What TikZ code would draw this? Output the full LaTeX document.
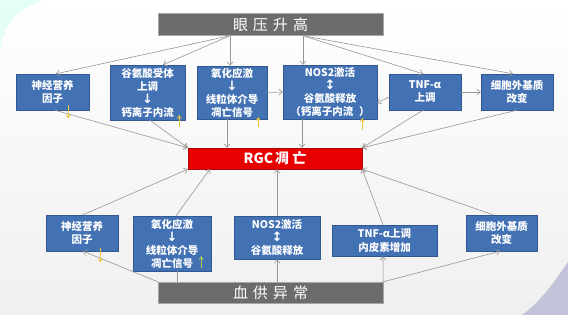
\documentclass[tikz,border=0pt]{standalone}
\usepackage{fontspec}
\setmainfont{Noto Sans CJK SC}
\newfontfamily\arrowfont{DejaVu Sans}
\usetikzlibrary{arrows.meta}

\definecolor{boxblue}{RGB}{66,113,180}
\definecolor{boxedge}{RGB}{50,88,145}
\definecolor{headgray}{RGB}{108,108,108}
\definecolor{rgcred}{RGB}{232,0,0}
\definecolor{rgcedge}{RGB}{170,10,10}
\definecolor{linkgray}{RGB}{150,150,150}
\definecolor{hintyellow}{RGB}{236,196,60}
\definecolor{hintgreen}{RGB}{185,205,70}

\newcommand{\downmark}{{\arrowfont\fontsize{13}{13}\selectfont ↓}}
\newcommand{\bothmark}{{\arrowfont\fontsize{13}{13}\selectfont ↕}}

\tikzset{
  box/.style={draw=boxedge, fill=boxblue, text=white, align=center, inner sep=0pt,
    font=\bfseries\fontsize{10.5}{13}\selectfont},
  headbox/.style={draw=gray!70, fill=headgray, text=white, inner sep=0pt,
    minimum width=225pt, minimum height=22pt, font=\fontsize{15}{17}\selectfont},
  rgcbox/.style={draw=rgcedge, fill=rgcred, text=white, inner sep=0pt,
    minimum width=174pt, minimum height=21pt, font=\bfseries\fontsize{14}{16}\selectfont},
  link/.style={draw=linkgray, line width=0.6pt, -{Straight Barb[length=3.5pt,width=6pt]}},
  hint/.style={line width=0.8pt, -{Straight Barb[length=2.5pt,width=4pt]}}
}

\begin{document}
\begin{tikzpicture}[x=1pt, y=-1pt]
    % Background
    \useasboundingbox (0,0) rectangle (568,315);
    \shade[top color=white, bottom color=gray!12] (0,0) rectangle (568,315);
    \fill[green!35!cyan!15, opacity=0.7] (0,0) -- (45,0) .. controls (18,8) and (6,22) .. (0,48) -- cycle;
    \fill[blue!25!gray!45, opacity=0.8] (568,262) .. controls (552,285) and (540,302) .. (522,315) -- (568,315) -- cycle;

    % Main boxes
    \node[headbox] (eye) at (270.5,24.5) {眼\hspace{5pt}压\hspace{5pt}升\hspace{5pt}高};
    \node[rgcbox] (rgc) at (275,158.5) {RGC\hspace{2pt}凋\hspace{3pt}亡};
    \node[headbox, minimum height=21pt] (blood) at (270.5,292.5) {血\hspace{5pt}供\hspace{5pt}异\hspace{5pt}常};

    % Upper row
    \node[box, minimum width=73pt, minimum height=36pt] (t1) at (52.5,92) {神经营养\\因子};
    \node[box, minimum width=75pt, minimum height=55pt] (t2) at (147.5,92.5) {谷氨酸受体\\上调\\\downmark\\钙离子内流};
    \node[box, minimum width=70pt, minimum height=53pt] (t3) at (232,92.5) {氧化应激\\\downmark\\线粒体介导\\凋亡信号};
    \node[box, minimum width=94pt, minimum height=54pt] (t4) at (330,92) {NOS2激活\\\bothmark\\谷氨酸释放\\（钙离子内流\hspace{6pt}）};
    \node[box, minimum width=72pt, minimum height=36pt] (t5) at (425,92) {TNF-α\\上调};
    \node[box, minimum width=72pt, minimum height=36pt] (t6) at (517,92) {细胞外基质\\改变};

    % Lower row
    \node[box, minimum width=72pt, minimum height=36pt] (b1) at (82,233) {神经营养\\因子};
    \node[box, minimum width=78pt, minimum height=55pt] (b2) at (172,243.5) {氧化应激\\\downmark\\线粒体介导\\凋亡信号};
    \node[box, minimum width=86pt, minimum height=43pt] (b3) at (277,237.5) {NOS2激活\\\bothmark\\谷氨酸释放};
    \node[box, minimum width=105pt, minimum height=31pt] (b4) at (384.5,240.5) {TNF-α上调\\[1pt]内皮素增加};
    \node[box, minimum width=71pt, minimum height=36pt] (b5) at (501.5,233) {细胞外基质\\改变};

    % Start points on the grey boxes
    \coordinate (eyeL) at ([xshift=-40.5pt]eye.south);
    \coordinate (eyeR) at ([xshift=32.5pt]eye.south);

    % Raised pressure -> upper row
    \draw[link] (eyeL) -- ([xshift=3.5pt]t1.north);
    \draw[link] (eyeL) -- ([xshift=15.5pt]t2.north);
    \draw[link] (eyeL) -- (eyeL |- t3.north);
    \draw[link] (eyeR) -- (eyeR |- t4.north);
    \draw[link] (eyeR) -- ([xshift=-2pt]t5.north);
    \draw[link] (eyeR) -- ([xshift=-4pt]t6.north);

    % Links inside the upper row
    \draw[link] (t3.east) -- (t4.west);
    \draw[link] ([yshift=-5pt]t5.west) -- ([yshift=-11pt]t4.east);
    \draw[link] (t5.east) -- (t6.west);

    % Upper row -> RGC
    \draw[link] ([xshift=2.5pt]t1.south) -- (rgc.north west);
    \draw[link] ([xshift=2.5pt]t2.south) -- (rgc.north west);
    \draw[link] ([xshift=-5pt]t3.south) -- ([xshift=-5pt]t3.south |- rgc.north);
    \draw[link] ([xshift=-28pt]t4.south) -- ([xshift=-28pt]t4.south |- rgc.north);
    \draw[link] ([xshift=-2pt]t5.south) -- (rgc.north east);
    \draw[link] (t6.south) -- (rgc.north east);

    % Lower row -> RGC
    \draw[link] ([xshift=1pt]b1.north) -- (rgc.south west);
    \draw[link] ([xshift=4pt]b2.north) -- ([xshift=22pt]rgc.south west);
    \draw[link] (b3.north) -- (b3.north |- rgc.south);
    \draw[link] ([xshift=-1.5pt]b4.north) -- (rgc.south east);
    \draw[link] ([xshift=-8.5pt]b5.north) -- (rgc.south east);

    % Blood supply -> lower row
    \draw[link] (blood.north west) -- ([xshift=1pt]b1.south);
    \draw[draw=linkgray, line width=0.6pt] ([xshift=5pt]b2.south |- blood.north) -- ([xshift=5pt]b2.south);
    \draw[link] (b3.south |- blood.north) -- (b3.south);
    \draw[link] (blood.north east) -- ([xshift=-1.5pt]b4.south);
    \draw[link] (blood.north east) -- ([xshift=-1.5pt]b5.south);

    % Small up/down marks
    \draw[hint, hintyellow] ([shift={(-21,-5)}]t1.south east) -- ++(0,13);
    \draw[hint, hintyellow] ([shift={(-6,7)}]t2.south east) -- ++(0,-12);
    \draw[hint, hintyellow] ([shift={(-9,8)}]t3.south east) -- ++(0,-10);
    \draw[hint, hintyellow] ([shift={(-15,11)}]t4.south east) -- ++(0,-12);
    \draw[hint, hintyellow] ([shift={(-18,-3)}]b1.south east) -- ++(0,14);
    \draw[hint, hintgreen] ([shift={(-10,-3)}]b2.south east) -- ++(0,-12);
\end{tikzpicture}
\end{document}
